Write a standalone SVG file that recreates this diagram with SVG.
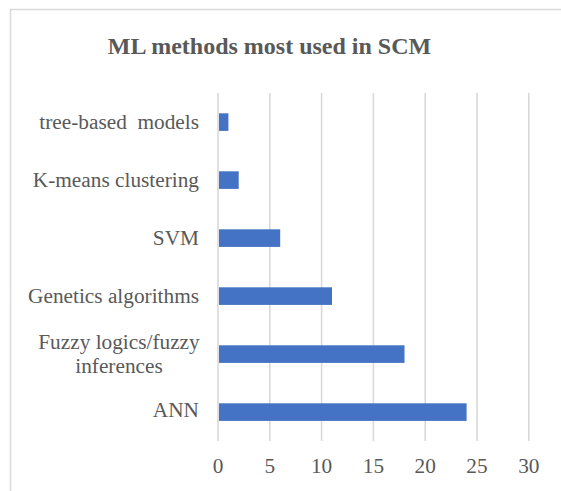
<svg xmlns="http://www.w3.org/2000/svg" width="561" height="491" viewBox="0 0 561 491">
  <style>
    .frame { fill: #ffffff; stroke: #d9d9d9; stroke-width: 1.5; }
    .grid { stroke: #d9d9d9; stroke-width: 1.6; }
    .bar { fill: #4472c4; }
    text { font-family: 'Liberation Serif', 'DejaVu Serif', serif; fill: #595959; }
    .title { font-size: 24px; font-weight: bold; }
    .cat { font-size: 21.3px; text-anchor: end; }
    .cat2 { font-size: 21.3px; text-anchor: middle; }
    .tick { font-size: 21.3px; text-anchor: middle; }
  </style>

  <!-- chart area frame, extends past the visible edges -->
  <rect class="frame" x="10.5" y="9.5" width="600" height="520"/>

  <text class="title" x="269.5" y="54" text-anchor="middle">ML methods most used in SCM</text>

  <!-- vertical gridlines at 0..30, step 5 -->
  <g id="gridlines">
    <line class="grid" x1="218" y1="93" x2="218" y2="441"/>
    <line class="grid" x1="269.8" y1="93" x2="269.8" y2="441"/>
    <line class="grid" x1="321.6" y1="93" x2="321.6" y2="441"/>
    <line class="grid" x1="373.4" y1="93" x2="373.4" y2="441"/>
    <line class="grid" x1="425.2" y1="93" x2="425.2" y2="441"/>
    <line class="grid" x1="477" y1="93" x2="477" y2="441"/>
    <line class="grid" x1="528.8" y1="93" x2="528.8" y2="441"/>
  </g>

  <!-- bars: 10.36 px per unit from x=218 -->
  <g id="bar-tree"><rect class="bar" x="219" y="113.3" width="9.4" height="17.6"/></g>
  <g id="bar-kmeans"><rect class="bar" x="219" y="171.3" width="19.7" height="17.6"/></g>
  <g id="bar-svm"><rect class="bar" x="219" y="229.3" width="61.2" height="17.6"/></g>
  <g id="bar-genetic"><rect class="bar" x="219" y="287.3" width="113" height="17.6"/></g>
  <g id="bar-fuzzy"><rect class="bar" x="219" y="345.3" width="185.5" height="17.6"/></g>
  <g id="bar-ann"><rect class="bar" x="219" y="403.3" width="247.6" height="17.6"/></g>

  <!-- category labels -->
  <g id="labels">
    <text class="cat" x="199" y="129.3" xml:space="preserve">tree-based  models</text>
    <text class="cat" x="199" y="187.3">K-means clustering</text>
    <text class="cat" x="199" y="245.3">SVM</text>
    <text class="cat" x="199" y="303.3">Genetics algorithms</text>
    <text class="cat2" x="119" y="348.5">Fuzzy logics/fuzzy</text>
    <text class="cat2" x="119" y="372.5">inferences</text>
    <text class="cat" x="199" y="417.3">ANN</text>
  </g>

  <!-- value axis ticks -->
  <g id="ticks">
    <text class="tick" x="218" y="473">0</text>
    <text class="tick" x="269.8" y="473">5</text>
    <text class="tick" x="321.6" y="473">10</text>
    <text class="tick" x="373.4" y="473">15</text>
    <text class="tick" x="425.2" y="473">20</text>
    <text class="tick" x="477" y="473">25</text>
    <text class="tick" x="528.8" y="473">30</text>
  </g>
</svg>
